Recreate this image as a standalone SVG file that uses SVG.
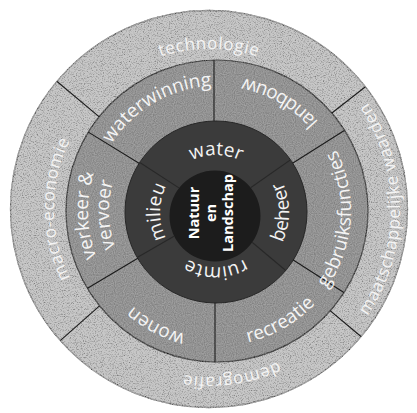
<svg xmlns="http://www.w3.org/2000/svg" xmlns:xlink="http://www.w3.org/1999/xlink" width="417" height="413" viewBox="0 0 417 413">
  <style>
    .lbl { font-family: "Open Sans", "Noto Sans", "Liberation Sans", sans-serif; fill: #f4f4f4; }
    .outer { font-size: 17px; letter-spacing: 0.6px; }
    .mid { font-size: 19px; }
    .core { font-size: 19px; }
    .center { font-size: 14.5px; font-weight: bold; fill: #ffffff; }
    .div { stroke: #1a1a1a; stroke-width: 1.1; fill: none; }
    .divdark { stroke: #282828; stroke-width: 1.1; fill: none; }
  </style>
  <defs>
    <!-- halftone grain for the printed rings -->
    <filter id="grain" filterUnits="userSpaceOnUse" x="0" y="0" width="417" height="413">
      <feTurbulence type="fractalNoise" baseFrequency="0.85" numOctaves="2" seed="7" result="noise"/>
      <feColorMatrix in="noise" type="matrix" values="2.6 0 0 0 -0.4  2.6 0 0 0 -0.4  2.6 0 0 0 -0.4  0 0 0 0 0.36" result="speck"/>
      <feComposite in="speck" in2="SourceGraphic" operator="in" result="clipped"/>
      <feMerge><feMergeNode in="SourceGraphic"/><feMergeNode in="clipped"/></feMerge>
    </filter>
    <filter id="grainSoft" filterUnits="userSpaceOnUse" x="0" y="0" width="417" height="413">
      <feTurbulence type="fractalNoise" baseFrequency="0.9" numOctaves="1" seed="3" result="noise"/>
      <feColorMatrix in="noise" type="matrix" values="2 0 0 0 -0.5  2 0 0 0 -0.5  2 0 0 0 -0.5  0 0 0 0 0.14" result="speck"/>
      <feComposite in="speck" in2="SourceGraphic" operator="in" result="clipped"/>
      <feMerge><feMergeNode in="SourceGraphic"/><feMergeNode in="clipped"/></feMerge>
    </filter>

    <!-- annuli that keep each set of dividers inside its own ring -->
    <clipPath id="clip-outer">
      <path clip-rule="evenodd" d="M10.5,209 A198.5,198.5 0 1 0 407.5,209 A198.5,198.5 0 1 0 10.5,209 Z M66,211 A151,151 0 1 0 368,211 A151,151 0 1 0 66,211 Z"/>
    </clipPath>
    <clipPath id="clip-middle">
      <path clip-rule="evenodd" d="M66,211 A151,151 0 1 0 368,211 A151,151 0 1 0 66,211 Z M125,212 A91,91 0 1 0 307,212 A91,91 0 1 0 125,212 Z"/>
    </clipPath>
    <clipPath id="clip-core">
      <path clip-rule="evenodd" d="M125.5,212 A90.5,90.5 0 1 0 306.5,212 A90.5,90.5 0 1 0 125.5,212 Z M169.5,216 A45.5,45.5 0 1 0 260.5,216 A45.5,45.5 0 1 0 169.5,216 Z"/>
    </clipPath>

    <!-- outer ring baselines, centre (209,209) -->
    <path id="p-tech" d="M51.43,181.22 A160,160 0 0 1 366.57,181.22"/>
    <path id="p-macro" d="M182.08,361.65 A155,155 0 0 1 182.08,56.35"/>
    <path id="p-demo" d="M373.46,238.00 A167,167 0 0 1 58.05,281.58"/>
    <path id="p-maat" d="M242.17,397.10 A191,191 0 0 0 242.17,20.90"/>

    <!-- middle ring baselines, centre (217,211) -->
    <path id="p-waterw" d="M99.54,253.75 A125,125 0 0 1 312.76,130.65"/>
    <path id="p-landb" d="M343.86,257.17 A135,135 0 0 0 113.58,124.22"/>
    <path id="p-gebr" d="M231.01,344.27 A134,134 0 0 0 249.42,80.98"/>
    <path id="p-recr" d="M113.58,297.78 A135,135 0 0 0 343.86,164.83"/>
    <path id="p-wonen" d="M317.08,289.19 A127,127 0 0 1 96.22,171.75"/>
    <path id="p-verk" d="M199.05,338.75 A129,129 0 0 1 190.18,84.82"/>
    <path id="p-verv" d="M201.97,317.95 A108,108 0 0 1 194.55,105.36"/>

    <!-- core ring baselines, centre (216,212) -->
    <path id="p-water" d="M159.87,202.10 A57,57 0 0 1 272.13,202.10"/>
    <path id="p-beheer" d="M228.68,283.89 A73,73 0 0 0 228.68,140.11"/>
    <path id="p-ruimte" d="M270.16,221.55 A55,55 0 0 1 161.84,221.55"/>
    <path id="p-milieu" d="M206.28,267.15 A56,56 0 0 1 206.28,156.85"/>
  </defs>

  <rect width="417" height="413" fill="#ffffff"/>

  <!-- rings -->
  <g id="rings">
    <circle id="ring-outer" cx="209" cy="209" r="198.5" fill="#9c9c9c" stroke="#1e1e1e" stroke-width="1.3" filter="url(#grain)"/>
    <circle id="ring-middle" cx="217" cy="211" r="151" fill="#8b8b8b" stroke="#1e1e1e" stroke-width="1.2" filter="url(#grainSoft)"/>
    <circle id="ring-core" cx="216" cy="212" r="91" fill="#3b3b3b" stroke="#262626" stroke-width="1"/>
    <circle id="ring-center" cx="215" cy="216" r="45.5" fill="#1c1c1c"/>
  </g>

  <!-- sector dividers -->
  <g id="connectors">
    <g clip-path="url(#clip-outer)">
      <line class="div" x1="109.41" y1="125.44" x2="51.96" y2="77.23"/>
      <line class="div" x1="311.44" y1="128.96" x2="370.54" y2="82.79"/>
      <line class="div" x1="308.59" y1="292.56" x2="366.04" y2="340.77"/>
      <line class="div" x1="111.64" y1="295.14" x2="55.46" y2="344.84"/>
    </g>
    <g clip-path="url(#clip-middle)">
      <line class="div" x1="214" y1="50" x2="214" y2="130"/>
      <line class="div" x1="215" y1="290" x2="215" y2="370"/>
      <line class="div" x1="148.79" y1="169.2" x2="80.58" y2="127.40"/>
      <line class="div" x1="284.62" y1="168.25" x2="352.24" y2="125.50"/>
      <line class="div" x1="284.32" y1="254.22" x2="351.64" y2="297.44"/>
      <line class="div" x1="148.28" y1="251.96" x2="79.57" y2="292.93"/>
    </g>
    <g clip-path="url(#clip-core)">
      <line class="divdark" x1="190.84" y1="195.66" x2="132.13" y2="157.54"/>
      <line class="divdark" x1="240.57" y1="194.79" x2="297.92" y2="154.64"/>
      <line class="divdark" x1="238.98" y1="231.28" x2="292.60" y2="276.28"/>
      <line class="divdark" x1="190.02" y1="227" x2="129.40" y2="262"/>
    </g>
  </g>

  <!-- outer ring labels -->
  <g id="technologie"><text class="lbl outer"><textPath xlink:href="#p-tech" href="#p-tech" startOffset="50%" text-anchor="middle">technologie</textPath></text></g>
  <g id="macro-economie"><text class="lbl outer"><textPath xlink:href="#p-macro" href="#p-macro" startOffset="50%" text-anchor="middle">macro-economie</textPath></text></g>
  <g id="demografie"><text class="lbl outer"><textPath xlink:href="#p-demo" href="#p-demo" startOffset="50%" text-anchor="middle">demografie</textPath></text></g>
  <g id="maatschappelijke-waarden"><text class="lbl outer"><textPath xlink:href="#p-maat" href="#p-maat" startOffset="50%" text-anchor="middle">maatschappelijke waarden</textPath></text></g>

  <!-- middle ring labels -->
  <g id="waterwinning"><text class="lbl mid"><textPath xlink:href="#p-waterw" href="#p-waterw" startOffset="50%" text-anchor="middle">waterwinning</textPath></text></g>
  <g id="landbouw"><text class="lbl mid"><textPath xlink:href="#p-landb" href="#p-landb" startOffset="50%" text-anchor="middle">landbouw</textPath></text></g>
  <g id="gebruiksfuncties"><text class="lbl mid"><textPath xlink:href="#p-gebr" href="#p-gebr" startOffset="50%" text-anchor="middle">gebruiksfuncties</textPath></text></g>
  <g id="recreatie"><text class="lbl mid"><textPath xlink:href="#p-recr" href="#p-recr" startOffset="50%" text-anchor="middle">recreatie</textPath></text></g>
  <g id="wonen"><text class="lbl mid"><textPath xlink:href="#p-wonen" href="#p-wonen" startOffset="50%" text-anchor="middle">wonen</textPath></text></g>
  <g id="verkeer-vervoer">
    <text class="lbl mid"><textPath xlink:href="#p-verk" href="#p-verk" startOffset="50%" text-anchor="middle">verkeer &amp;</textPath></text>
    <text class="lbl mid"><textPath xlink:href="#p-verv" href="#p-verv" startOffset="50%" text-anchor="middle">vervoer</textPath></text>
  </g>

  <!-- core ring labels -->
  <g id="water"><text class="lbl core"><textPath xlink:href="#p-water" href="#p-water" startOffset="50%" text-anchor="middle">water</textPath></text></g>
  <g id="beheer"><text class="lbl core"><textPath xlink:href="#p-beheer" href="#p-beheer" startOffset="50%" text-anchor="middle">beheer</textPath></text></g>
  <g id="ruimte"><text class="lbl core"><textPath xlink:href="#p-ruimte" href="#p-ruimte" startOffset="50%" text-anchor="middle">ruimte</textPath></text></g>
  <g id="milieu"><text class="lbl core"><textPath xlink:href="#p-milieu" href="#p-milieu" startOffset="50%" text-anchor="middle">milieu</textPath></text></g>

  <!-- centre -->
  <g id="natuur-en-landschap" class="lbl center" text-anchor="middle">
    <text transform="translate(199,213) rotate(-90)">Natuur</text>
    <text transform="translate(216,213) rotate(-90)">en</text>
    <text transform="translate(233,213) rotate(-90)">Landschap</text>
  </g>
</svg>
